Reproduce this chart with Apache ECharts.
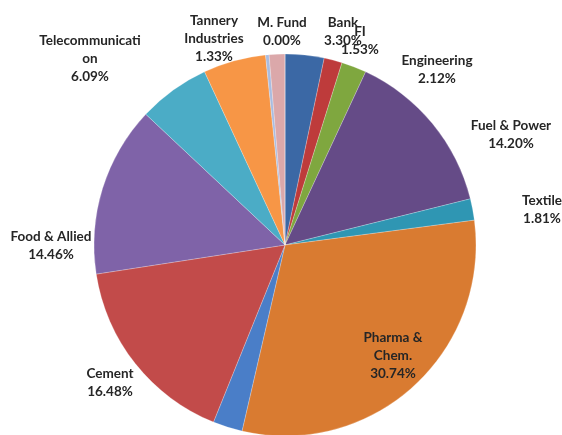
<!DOCTYPE html>
<html>
<head>
<meta charset="utf-8">
<script src="https://cdn.jsdelivr.net/npm/echarts@6/dist/echarts.min.js"></script>
<style>html,body{margin:0;padding:0;background:#fff}#c{width:562px;height:435px}</style>
</head>
<body>
<div id="c"></div>
<script>
// Slice names (clockwise from 12 o'clock); '' = unlabelled slice
var names = ['Bank', 'FI', 'Engineering', 'Fuel & Power', 'Textile', 'Pharma &\nChem.', '',
             'Cement', 'Food & Allied', 'Telecommunicati\non', '', '', 'Tannery\nIndustries', 'M. Fund'];
// Slice values (%)
var values = [3.30, 1.53, 2.12, 14.20, 1.81, 30.74, 2.5, 16.48, 14.46, 6.09, 5.3, 0.3, 1.33, 0.00];
var colors = ['#3B68A5', '#BE3B3B', '#7FA73F', '#654B87', '#2F96B3', '#D97B31', '#4A7EC8',
              '#C24B4A', '#7F63A8', '#4BACC6', '#F79646', '#A9BCE0', '#DBA8AA', '#E3B8B8'];
// Label anchor layout (label centres, px)
var labelPos = [[343, 32], [360, 41], [437, 70], [511, 135], [542, 210], [393, 356], null,
                [110, 383], [51, 246], [90, 59], null, null, [214, 39], [282, 32]];

var data = names.map(function (n, i) {
  return {
    name: n, value: values[i],
    itemStyle: { color: colors[i] },
    label: { show: n !== '' }
  };
});

var chart = echarts.init(document.getElementById('c'), null, { renderer: 'canvas' });
chart.setOption({
  animation: false,
  series: [{
    type: 'pie',
    center: [285, 245],
    radius: 191,
    startAngle: 90,
    clockwise: true,
    minShowLabelAngle: -1,
    stillShowZeroSum: true,
    data: data,
    itemStyle: { borderColor: 'rgba(255,255,255,0.45)', borderWidth: 0.5 },
    label: {
      position: 'inside',
      rotate: 0,
      overflow: 'none',
      fontFamily: 'Lato',
      fontWeight: 'bold',
      fontSize: 13.5,
      color: '#262626',
      lineHeight: 18,
      align: 'center',
      formatter: function (p) { return p.name + '\n' + p.value.toFixed(2) + '%'; }
    },
    labelLine: { show: false },
    labelLayout: function (p) {
      var pos = labelPos[p.dataIndex];
      if (!pos) return {};
      return { x: pos[0], y: pos[1], align: 'center', verticalAlign: 'middle', hideOverlap: false };
    }
  }]
});
</script>
</body>
</html>
